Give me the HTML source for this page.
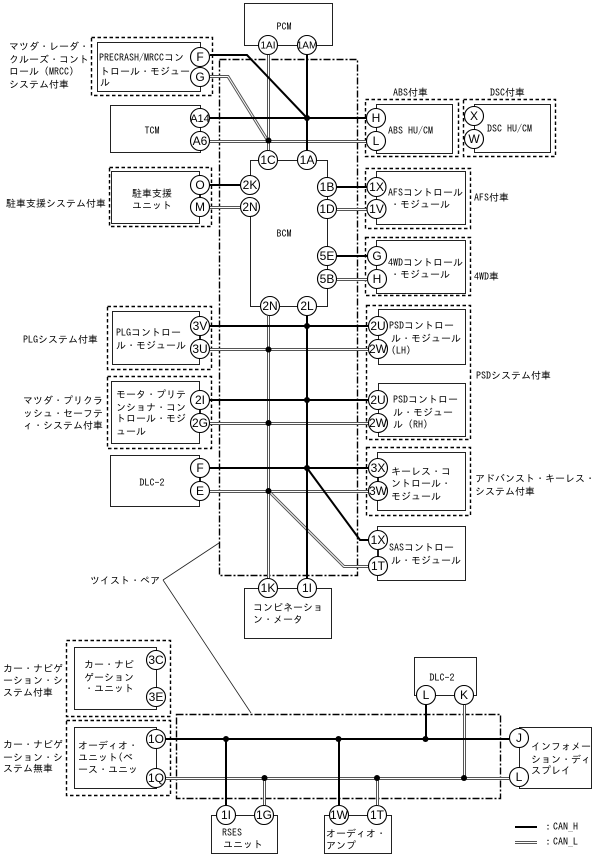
<!DOCTYPE html>
<html lang="ja"><head><meta charset="utf-8"><title>CAN system wiring diagram</title>
<style>
html,body{margin:0;padding:0;background:#fff}
svg{display:block}
text{font-family:"IPAGothic","Liberation Sans","Noto Sans CJK JP",sans-serif;font-size:10px;fill:#000}
.box{fill:#fff;stroke:#222;stroke-width:1}
.dash{fill:none;stroke:#000;stroke-width:1.4;stroke-dasharray:3.5 2.5}
.dd{fill:none;stroke:#000;stroke-width:1.4;stroke-dasharray:7 2 2 2}
.w{fill:none;stroke:#222;stroke-width:1}
.h{fill:none;stroke:#000;stroke-width:2}
.l1{fill:none;stroke:#555;stroke-width:3}
.l2{fill:none;stroke:#fff;stroke-width:1}
.c circle{fill:#fff;stroke:#000;stroke-width:1.1}
.c text{font-family:"Liberation Sans",sans-serif;font-size:12px;text-anchor:middle}
.m text{text-anchor:middle}
</style></head><body>
<svg xmlns="http://www.w3.org/2000/svg" width="601" height="856" viewBox="0 0 601 856">
<rect width="601" height="856" fill="#fff"/>
<!-- boxes -->
<rect class="box" x="244.500" y="3.5" width="88" height="42"/>
<rect class="box" x="97.5" y="42.5" width="103" height="49"/>
<rect class="box" x="110.5" y="105.5" width="90" height="47"/>
<rect class="box" x="111.5" y="171.5" width="88" height="52"/>
<rect class="box" x="112.5" y="311.5" width="87" height="53"/>
<rect class="box" x="111.5" y="381.5" width="88" height="62"/>
<rect class="box" x="110.5" y="455.5" width="89" height="51"/>
<rect class="box" x="376.5" y="104.5" width="76" height="49"/>
<rect class="box" x="474.5" y="104.5" width="76" height="48"/>
<rect class="box" x="376.5" y="171.5" width="89" height="53"/>
<rect class="box" x="376.5" y="240.5" width="89" height="53"/>
<rect class="box" x="378.5" y="309.5" width="87" height="55"/>
<rect class="box" x="378.5" y="383.5" width="87" height="53"/>
<rect class="box" x="377.5" y="452.5" width="88" height="58"/>
<rect class="box" x="377.5" y="526.5" width="88" height="54"/>
<rect class="box" x="244.5" y="588.5" width="87" height="50"/>
<rect class="box" x="74.5" y="647.5" width="82" height="62"/>
<rect class="box" x="74.5" y="727.5" width="82" height="61"/>
<rect class="box" x="414.5" y="657.5" width="62" height="38"/>
<rect class="box" x="519.5" y="727.5" width="72" height="61"/>
<rect class="box" x="211.5" y="815.5" width="66" height="38"/>
<rect class="box" x="324.5" y="815.5" width="67" height="38"/>
<!-- dashed groups -->
<rect class="dash" x="91.5" y="37.5" width="121" height="58"/>
<rect class="dash" x="109.5" y="167.5" width="102" height="59"/>
<rect class="dash" x="107.5" y="306.5" width="104" height="63"/>
<rect class="dash" x="107.5" y="376.5" width="104" height="72"/>
<rect class="dash" x="365.5" y="99.5" width="93" height="57"/>
<rect class="dash" x="463.5" y="99.5" width="92" height="57"/>
<rect class="dash" x="365.5" y="168.5" width="105" height="60"/>
<rect class="dash" x="365.5" y="237.5" width="105" height="58"/>
<rect class="dash" x="366.5" y="305.5" width="104" height="134"/>
<rect class="dash" x="366.5" y="447.5" width="104" height="68"/>
<rect class="dash" x="66.5" y="640.5" width="104" height="76"/>
<rect class="dash" x="66.5" y="720.5" width="104" height="75"/>
<rect class="dd" x="219.5" y="59.5" width="138" height="516"/>
<rect class="dd" x="176.5" y="714.5" width="324" height="84"/>
<!-- thin links -->
<path class="w" d="M250.5 185V160.5H268M278 160.5H297M317 160.5H327.5V306.5H317M297 306.5H279M260 306.500H250.5V207M278 45.5H297"/>
<path class="w" style="stroke-width:.8" d="M163 580L219 543M163 580L251 713"/>
<path class="w" d="M200.5 57V77M200.5 118V141M200.5 185V207M200.5 326V349M200.5 400V423M200.5 468V491M376.5 118V141M474.5 116V139M376.5 187V209M376.5 256V279M378.5 326V349M378.5 400V423M378.5 468V491M378.5 540V566M156.5 660V697M156.5 739V778M519.5 738V777M426 695.5H464M226 815.5H264M339 815.5H377"/>
<!-- CAN_L -->
<g class="l1">
<path d="M268.5 55V150M268.500 316V578"/>
<path d="M210 76.5H228L268 141"/>
<path d="M210 141.5H367M210 207.5H240M337 209.5H367M337 279.5H367M210 349.5H368M210 423.5H368M210 491.5H368"/>
<path d="M269 491.5L344 566.5H368"/>
<path d="M166 778.5H509M264.5 778V805M377.5 778V805M464.5 705V778"/>
<path d="M515 842.5H537"/>
</g>
<g class="l2">
<path d="M268.5 55V150M268.500 316V578"/>
<path d="M210 76.5H228L268 141"/>
<path d="M210 141.5H367M210 207.5H240M337 209.5H367M337 279.5H367M210 349.5H368M210 423.5H368M210 491.5H368"/>
<path d="M269 491.5L344 566.5H368"/>
<path d="M166 778.5H509M264.5 778V805M377.5 778V805M464.5 705V778"/>
<path d="M515 842.5H537"/>
</g>
<!-- CAN_H -->
<path class="h" d="M210 55H247L307 118M307 55V150M307 316V578M210 118H367M210 185H240M337 187H367M337 256H367M210 326H368M210 400H368M210 468H368M307 468L360 540H368M166 739H509M226 739V805M339 739V805M426 705V739M515 827H537"/>
<!-- junctions -->
<g fill="#000">
<circle cx="307" cy="118" r="3"/><circle cx="268.5" cy="140.5" r="3"/>
<circle cx="307" cy="326" r="3"/><circle cx="268.5" cy="349.5" r="3"/>
<circle cx="307" cy="400" r="3"/><circle cx="268.5" cy="423" r="3"/>
<circle cx="307" cy="468" r="3"/><circle cx="268.5" cy="491" r="3"/>
<circle cx="226" cy="739" r="3"/><circle cx="338.5" cy="739" r="3"/><circle cx="425.5" cy="739" r="3"/>
<circle cx="264.5" cy="778" r="3"/><circle cx="377" cy="778" r="3"/><circle cx="464" cy="778" r="3"/>
</g>
<!-- connector circles -->
<g class="c">
<circle cx="268" cy="45" r="9.5"/><text x="268" y="48.5" style="font-size:10px">1AI</text>
<circle cx="307" cy="45" r="9.5"/><text x="307" y="48.5" style="font-size:10px">1AM</text>
<circle cx="200" cy="57" r="9.5"/><text x="200" y="61">F</text>
<circle cx="200" cy="77" r="9.5"/><text x="200" y="81">G</text>
<circle cx="200" cy="118" r="9.5"/><text x="200" y="122" style="font-size:11px">A14</text>
<circle cx="200" cy="141" r="9.5"/><text x="200" y="145">A6</text>
<circle cx="200" cy="185" r="9.5"/><text x="200" y="189">O</text>
<circle cx="200" cy="207" r="9.5"/><text x="200" y="211">M</text>
<circle cx="268" cy="160" r="9.5"/><text x="268" y="164">1C</text>
<circle cx="307" cy="160" r="9.5"/><text x="307" y="164">1A</text>
<circle cx="250" cy="185" r="9.5"/><text x="250" y="189">2K</text>
<circle cx="250" cy="207" r="9.5"/><text x="250" y="211">2N</text>
<circle cx="327" cy="187" r="9.5"/><text x="327" y="191">1B</text>
<circle cx="327" cy="209" r="9.5"/><text x="327" y="213">1D</text>
<circle cx="327" cy="256" r="9.5"/><text x="327" y="260">5E</text>
<circle cx="327" cy="279" r="9.5"/><text x="327" y="283">5B</text>
<circle cx="270" cy="306" r="9.5"/><text x="270" y="310">2N</text>
<circle cx="307" cy="306" r="9.5"/><text x="307" y="310">2L</text>
<circle cx="376" cy="118" r="9.5"/><text x="376" y="122">H</text>
<circle cx="376" cy="141" r="9.5"/><text x="376" y="145">L</text>
<circle cx="474" cy="116" r="9.5"/><text x="474" y="120">X</text>
<circle cx="474" cy="139" r="9.5"/><text x="474" y="143">W</text>
<circle cx="376.5" cy="187" r="9.5"/><text x="376.5" y="191">1X</text>
<circle cx="376.5" cy="209" r="9.5"/><text x="376.5" y="213">1V</text>
<circle cx="377" cy="256" r="9.5"/><text x="377" y="260">G</text>
<circle cx="377" cy="279" r="9.5"/><text x="377" y="283">H</text>
<circle cx="200" cy="326" r="9.5"/><text x="200" y="330">3V</text>
<circle cx="200" cy="349" r="9.5"/><text x="200" y="353">3U</text>
<circle cx="200" cy="400" r="9.5"/><text x="200" y="404">2I</text>
<circle cx="200" cy="423" r="9.5"/><text x="200" y="427">2G</text>
<circle cx="200" cy="468" r="9.5"/><text x="200" y="472">F</text>
<circle cx="200" cy="491" r="9.5"/><text x="200" y="495">E</text>
<circle cx="378" cy="326" r="9.5"/><text x="378" y="330">2U</text>
<circle cx="378" cy="349" r="9.5"/><text x="378" y="353">2W</text>
<circle cx="378" cy="400" r="9.5"/><text x="378" y="404">2U</text>
<circle cx="378" cy="423" r="9.5"/><text x="378" y="427">2W</text>
<circle cx="378" cy="468" r="9.5"/><text x="378" y="472">3X</text>
<circle cx="378" cy="491" r="9.5"/><text x="378" y="495">3W</text>
<circle cx="378" cy="540" r="9.5"/><text x="378" y="544">1X</text>
<circle cx="378" cy="566" r="9.5"/><text x="378" y="570">1T</text>
<circle cx="268" cy="588" r="9.5"/><text x="268" y="592">1K</text>
<circle cx="307" cy="588" r="9.5"/><text x="307" y="592">1I</text>
<circle cx="156" cy="660" r="9.5"/><text x="156" y="664">3C</text>
<circle cx="156" cy="697" r="9.5"/><text x="156" y="701">3E</text>
<circle cx="156" cy="739" r="9.5"/><text x="156" y="743">1O</text>
<circle cx="156" cy="778" r="9.5"/><text x="156" y="782">1Q</text>
<circle cx="426" cy="695" r="9.5"/><text x="426" y="699">L</text>
<circle cx="464" cy="695" r="9.5"/><text x="464" y="699">K</text>
<circle cx="519" cy="738" r="9.5"/><text x="519" y="742">J</text>
<circle cx="519" cy="777" r="9.5"/><text x="519" y="781">L</text>
<circle cx="226" cy="815" r="9.5"/><text x="226" y="819">1I</text>
<circle cx="264" cy="815" r="9.5"/><text x="264" y="819">1G</text>
<circle cx="339" cy="815" r="9.5"/><text x="339" y="819">1W</text>
<circle cx="377" cy="815" r="9.5"/><text x="377" y="819">1T</text>
</g>
<!-- centered labels -->
<g class="m">
<text x="284" y="30">PCM</text>
<text x="152" y="134">TCM</text>
<text x="152" y="197">駐車支援</text>
<text x="152" y="209">ユニット</text>
<text x="284" y="237">BCM</text>
<text x="152" y="486">DLC-2</text>
<text x="442" y="681">DLC-2</text>
</g>
<!-- left labels -->
<text x="9" y="50">マツダ・レーダ・</text>
<text x="9" y="63">クルーズ・コント</text>
<text x="9" y="75">ロール (MRCC)</text>
<text x="9" y="88">システム付車</text>
<text x="6" y="207">駐車支援システム付車</text>
<text x="23" y="343">PLGシステム付車</text>
<text x="23" y="404">マツダ・プリクラ</text>
<text x="23" y="417">ッシュ・セーフテ</text>
<text x="23" y="429">ィ・システム付車</text>
<text x="90" y="584">ツイスト・ペア</text>
<text x="3" y="672">カー・ナビゲ</text>
<text x="3" y="684">ーション・シ</text>
<text x="3" y="696">ステム付車</text>
<text x="3" y="748">カー・ナビゲ</text>
<text x="3" y="761">ーション・シ</text>
<text x="3" y="772">ステム無車</text>
<!-- module text, left -->
<text x="99" y="61">PRECRASH/MRCCコン</text>
<text x="100" y="75">トロール・モジュー</text>
<text x="100" y="86">ル</text>
<text x="116" y="336">PLGコントロー</text>
<text x="116" y="349">ル・モジュール</text>
<text x="116" y="398">モータ・プリテ</text>
<text x="116" y="411">ンショナ・コン</text>
<text x="116" y="422">トロール・モジ</text>
<text x="116" y="435">ュール</text>
<text x="84" y="668">カー・ナビ</text>
<text x="84" y="681">ゲーション</text>
<text x="84" y="692">・ユニット</text>
<text x="78" y="749">オーディオ・</text>
<text x="78" y="761">ユニット(ベ</text>
<text x="78" y="773">ース・ユニッ</text>
<!-- module text, right -->
<text x="393" y="96">ABS付車</text>
<text x="490" y="96">DSC付車</text>
<text x="388" y="134">ABS HU/CM</text>
<text x="487" y="132">DSC HU/CM</text>
<text x="388" y="196">AFSコントロール</text>
<text x="390" y="208">・モジュール</text>
<text x="474" y="201">AFS付車</text>
<text x="388" y="266">4WDコントロール</text>
<text x="390" y="278">・モジュール</text>
<text x="474" y="280">4WD車</text>
<text x="389" y="329">PSDコントロー</text>
<text x="391" y="342">ル・モジュール</text>
<text x="391" y="354">(LH)</text>
<text x="393" y="403">PSDコントロー</text>
<text x="393" y="416">ル・モジュー</text>
<text x="393" y="428">ル (RH)</text>
<text x="476" y="379">PSDシステム付車</text>
<text x="391" y="475">キーレス・コ</text>
<text x="391" y="487">ントロール・</text>
<text x="391" y="500">モジュール</text>
<text x="475" y="482">アドバンスト・キーレス・</text>
<text x="475" y="495">システム付車</text>
<text x="389" y="551">SASコントロー</text>
<text x="391" y="564">ル・モジュール</text>
<text x="253" y="611">コンビネーショ</text>
<text x="253" y="623">ン・メータ</text>
<text x="531" y="750">インフォメー</text>
<text x="531" y="763">ション・ディ</text>
<text x="531" y="774">スプレイ</text>
<text x="222" y="836">RSES</text>
<text x="223" y="848">ユニット</text>
<text x="326" y="837">オーディオ・</text>
<text x="326" y="849">アンプ</text>
<text x="543" y="830">：CAN_H</text>
<text x="543" y="845">：CAN_L</text>
</svg>
</body></html>
